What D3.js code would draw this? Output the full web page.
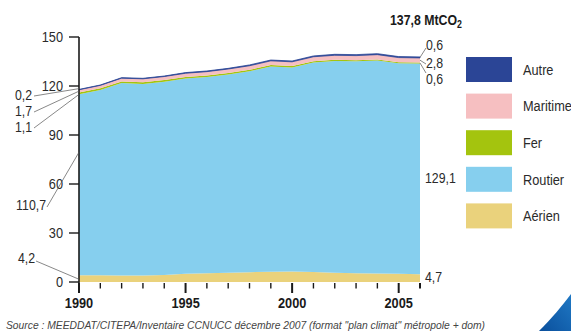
<!DOCTYPE html>
<html>
<head>
<meta charset="utf-8">
<script src="https://cdn.jsdelivr.net/npm/d3@7"></script>
<style>
  html, body { margin: 0; padding: 0; background: #fff; }
  svg { display: block; }
  text { font-family: "Liberation Sans", Arial, sans-serif; }
</style>
</head>
<body>
<svg id="chart" width="571" height="331"></svg>
<script>
// Émissions de CO2 des transports, France (MtCO2), 1990–2006
const years    = [1990,1991,1992,1993,1994,1995,1996,1997,1998,1999,2000,2001,2002,2003,2004,2005,2006];
const aerien   = [4.2, 4.1, 4.0, 4.0, 4.3, 5.0, 5.4, 5.7, 6.0, 6.3, 6.4, 6.1, 5.7, 5.4, 5.2, 5.0, 4.7];
const routier  = [110.7,113.4,117.8,117.3,118.3,119.6,120.1,121.4,123.0,125.7,125.0,128.3,129.6,129.7,130.4,129.0,129.1];
const fer      = [1.1, 1.1, 1.0, 1.0, 1.0, 0.9, 0.9, 0.9, 0.9, 0.8, 0.8, 0.8, 0.7, 0.7, 0.7, 0.6, 0.6];
const maritime = [1.7, 1.8, 2.0, 2.1, 2.2, 2.3, 2.4, 2.4, 2.5, 2.6, 2.6, 2.7, 2.8, 2.8, 2.9, 2.8, 2.8];
const autre    = [0.2, 0.2, 0.3, 0.3, 0.3, 0.4, 0.4, 0.4, 0.5, 0.5, 0.5, 0.5, 0.6, 0.6, 0.6, 0.6, 0.6];

const seriesKeys   = ["Aérien", "Routier", "Fer", "Maritime", "Autre"];
const seriesColors = ["#ead27c", "#86cfee", "#a4c40e", "#f6bfc1", "#2b4596"];
const legendOrder  = ["Autre", "Maritime", "Fer", "Routier", "Aérien"];
const yTicks       = [0, 30, 60, 90, 120, 150];
const yearLabels   = [1990, 1995, 2000, 2005];
const totalLabel   = "137,8 MtCO";
const sourceText   = "Source : MEEDDAT/CITEPA/Inventaire CCNUCC décembre 2007 (format \"plan climat\" métropole + dom)";

const rows = years.map((yr, i) => ({
  year: yr, "Aérien": aerien[i], "Routier": routier[i], "Fer": fer[i], "Maritime": maritime[i], "Autre": autre[i]
}));

const svg = d3.select("#chart");
const x = d3.scaleLinear().domain([1990, 2006]).range([79, 420]);
const y = d3.scaleLinear().domain([0, 150]).range([282, 37]);
const color = d3.scaleOrdinal().domain(seriesKeys).range(seriesColors);

// condensed-looking text: horizontal squeeze around the anchor point
const SQ = 0.88;
function label(parent, px, py, str, opts = {}) {
  const t = parent.append("text")
    .attr("transform", `translate(${px},${py}) scale(${SQ},1)`)
    .attr("dy", "0.36em")
    .attr("font-size", opts.size || 14)
    .attr("font-weight", opts.weight || "normal")
    .attr("fill", opts.fill || "#2a2a2a")
    .attr("text-anchor", opts.anchor || "start");
  if (str !== null) t.text(str);
  return t;
}

// decorative corner swoosh
const grad = svg.append("defs").append("linearGradient")
  .attr("id", "swoosh").attr("x1", "0").attr("y1", "1").attr("x2", "1").attr("y2", "0");
grad.append("stop").attr("offset", "0").attr("stop-color", "#0a4f9c");
grad.append("stop").attr("offset", "1").attr("stop-color", "#1f78c4");
svg.append("path")
  .attr("d", "M539,331 C552,318 562,306 571,294 L571,331 Z")
  .attr("fill", "url(#swoosh)");

// stacked areas
const stacked = d3.stack().keys(seriesKeys)(rows);
const area = d3.area()
  .x(d => x(d.data.year))
  .y0(d => y(d[0]))
  .y1(d => y(d[1]));
svg.append("g").selectAll("path").data(stacked).join("path")
  .attr("d", area)
  .attr("fill", d => color(d.key))
  .attr("stroke", d => d.key === "Autre" ? color(d.key) : "none")
  .attr("stroke-width", 0.8);

// y axis
const yAxis = svg.append("g");
yAxis.append("line").attr("x1", 79).attr("x2", 79).attr("y1", y(150)).attr("y2", y(0) + 1)
  .attr("stroke", "#1a1a1a").attr("stroke-width", 1.6);
yAxis.selectAll("line.tick").data(yTicks).join("line").attr("class", "tick")
  .attr("x1", 69).attr("x2", 79).attr("y1", d => y(d)).attr("y2", d => y(d))
  .attr("stroke", "#1a1a1a").attr("stroke-width", 1.4);
yTicks.forEach(v => label(yAxis, 63, y(v), String(v), { anchor: "end", size: 14.5 }));

// x axis ticks and labels
const xAxis = svg.append("g");
xAxis.selectAll("line").data(years).join("line")
  .attr("x1", d => x(d)).attr("x2", d => x(d))
  .attr("y1", 283)
  .attr("y2", d => (yearLabels.includes(d) ? 293 : 288.5))
  .attr("stroke", "#1a1a1a")
  .attr("stroke-width", d => (yearLabels.includes(d) || d === 2006 ? 2 : 1.4));
yearLabels.forEach(v => label(xAxis, x(v), 303, String(v), { anchor: "middle", size: 14.5, weight: "bold", fill: "#1a1a1a" }));

// value labels with leader lines
const i0 = 0, iN = years.length - 1;
const leaders = svg.append("g").attr("stroke", "#555").attr("stroke-width", 0.7).attr("fill", "none");
const labels = svg.append("g");
const top0 = stacked[4][i0][1], topM0 = stacked[3][i0][1], topF0 = stacked[2][i0][1];
const startLabels = [
  { text: "0,2", ty: 95,  py: (top0 + topM0) / 2 + 0.6 },
  { text: "1,7", ty: 111, py: (topM0 + topF0) / 2 },
  { text: "1,1", ty: 127, py: (topF0 + stacked[1][i0][1]) / 2 - 0.6 }
];
startLabels.forEach(d => {
  leaders.append("line").attr("x1", 34).attr("y1", d.ty + 1).attr("x2", x(1990)).attr("y2", y(d.py));
  label(labels, 32, d.ty, d.text, { anchor: "end" });
});
leaders.append("line").attr("x1", 47).attr("y1", 207).attr("x2", x(1990)).attr("y2", y(stacked[1][i0][0] + routier[i0] * 0.68));
label(labels, 46, 205, "110,7", { anchor: "end" });
leaders.append("line").attr("x1", 36).attr("y1", 261).attr("x2", x(1990)).attr("y2", y(aerien[i0] * 0.4));
label(labels, 35, 258, "4,2", { anchor: "end" });

const xe = x(2006);
const endLabels = [
  { text: "0,6", ty: 45, ly: 48, py: (stacked[4][iN][0] + stacked[4][iN][1]) / 2 },
  { text: "2,8", ty: 63, ly: 64, py: (stacked[3][iN][0] + stacked[3][iN][1]) / 2 },
  { text: "0,6", ty: 79, ly: 73, py: (stacked[2][iN][0] + stacked[2][iN][1]) / 2 }
];
endLabels.forEach(d => {
  leaders.append("line").attr("x1", xe).attr("y1", y(d.py)).attr("x2", 426).attr("y2", d.ly);
  label(labels, 426, d.ty, d.text);
});
label(labels, 425, 178, "129,1");
label(labels, 425, 277, "4,7");

// total
const tot = label(svg, 390, 20, null, { size: 14, weight: "bold", fill: "#1a1a1a" });
tot.append("tspan").text(totalLabel);
tot.append("tspan").attr("font-size", 10).attr("dy", 3).text("2");

// legend
const legend = svg.append("g").selectAll("g").data(legendOrder).join("g")
  .attr("transform", (d, i) => `translate(466, ${57 + i * 36.6})`);
legend.append("rect").attr("width", 46).attr("height", 25).attr("fill", d => color(d));
legend.each(function (d) { label(d3.select(this), 57, 12.5, d, { size: 14.5 }); });

// source
svg.append("text").attr("x", 6).attr("y", 329)
  .attr("font-style", "italic")
  .attr("font-size", 10.5).attr("fill", "#444")
  .attr("textLength", 479).attr("lengthAdjust", "spacingAndGlyphs")
  .text(sourceText);
</script>
</body>
</html>
